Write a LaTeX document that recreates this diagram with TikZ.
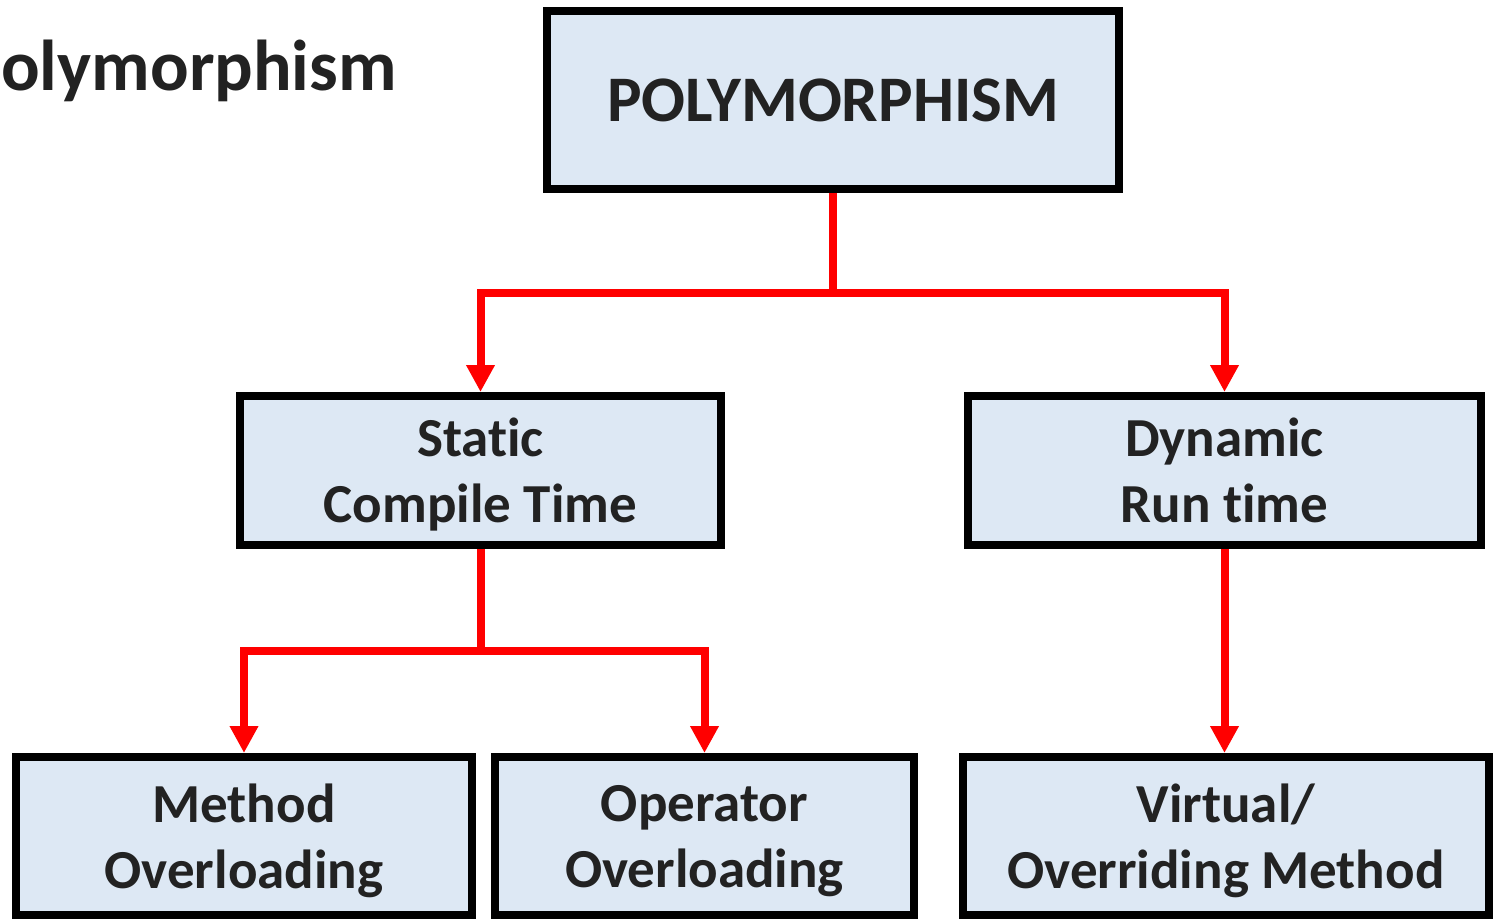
\documentclass[tikz,border=0pt]{standalone}
\usepackage{fontspec}
\setmainfont[Ligatures={NoCommon,NoDiscretionary}]{Carlito}
\usepackage{xcolor}
\usetikzlibrary{arrows.meta, positioning, calc}
\definecolor{boxblue}{HTML}{DDE8F4}
\definecolor{inkgray}{HTML}{222222}
\definecolor{linkred}{HTML}{FF0000}

\begin{document}
\begin{tikzpicture}[
    x=1pt, y=-1pt,
    box/.style={rectangle, draw=black, line width=8pt, fill=boxblue, text=inkgray, align=center, inner sep=0pt, text depth=0pt, font=\bfseries\fontsize{55}{66}\selectfont},
    link/.style={draw=linkred, line width=8pt, -{Triangle[length=27pt, width=27pt]}}
]
\useasboundingbox (0,0) rectangle (1495,919);

% Title
\node[anchor=base west, inner sep=0pt, text=inkgray, font=\bfseries\fontsize{72}{80}\selectfont] (title) at (1,90) {olymorphism};

% Nodes
\node[box, minimum width=572pt, minimum height=178pt, font=\bfseries\fontsize{65}{78}\selectfont] (poly) at (833,100) {POLYMORPHISM};
\node[box, minimum width=481pt, minimum height=149pt] (static) at (480.5,470.5) {Static\\Compile Time};
\node[box, minimum width=513pt, minimum height=149pt] (dynamic) at (1224.5,470.5) {Dynamic\\Run time};
\node[box, minimum width=456pt, minimum height=158pt] (method) at (244,836) {Method\\Overloading};
\node[box, minimum width=419pt, minimum height=158pt] (operator) at (704.5,836) {Operator\\Overloading};
\node[box, minimum width=526pt, minimum height=158pt] (virtual) at (1226,836) {Virtual/\\Overriding Method};

% Arrows
\draw[link] (poly.south) -- ++(0,100) -| (static.north);
\draw[link] (poly.south) -- ++(0,100) -| (dynamic.north);
\draw[link] (static.south) -- ++(0,102) -| (method.north);
\draw[link] (static.south) -- ++(0,102) -| (operator.north);
\draw[link] (dynamic.south) -- (dynamic.south |- virtual.north);

\end{tikzpicture}
\end{document}
